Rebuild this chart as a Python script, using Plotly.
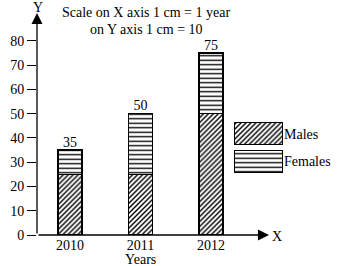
import plotly.graph_objects as go

years = [2010, 2011, 2012]
males = [25, 25, 50]
females = [10, 25, 25]
totals = [m + f for m, f in zip(males, females)]
y_ticks = [0, 10, 20, 30, 40, 50, 60, 70, 80]
legend_names = ["Females", "Males"]

FONT = "Liberation Serif"
male_pat = dict(shape="/", fgcolor="black", bgcolor="white", size=3.5, solidity=0.4, fgopacity=1)
fem_pat = dict(shape="-", fgcolor="black", bgcolor="white", size=4.5, solidity=0.3, fgopacity=1)

fig = go.Figure()
fig.add_trace(go.Bar(x=years, y=males, width=0.34, name="Males",
                     marker=dict(color="white", line=dict(color="black", width=1.2), pattern=male_pat),
                     xaxis="x", yaxis="y", showlegend=False))
fig.add_trace(go.Bar(x=years, y=females, width=0.34, name="Females",
                     marker=dict(color="white", line=dict(color="black", width=1.2), pattern=fem_pat),
                     xaxis="x", yaxis="y", showlegend=False))
fig.add_trace(go.Scatter(x=years, y=totals, text=[str(t) for t in totals], mode="text",
                         textposition="top center", textfont=dict(family=FONT, size=14, color="black"),
                         xaxis="x", yaxis="y", showlegend=False, cliponaxis=False))

# legend boxes
fig.add_trace(go.Bar(y=["Males"], x=[1], orientation="h", width=0.8,
                     marker=dict(color="white", line=dict(color="black", width=1.2), pattern=male_pat),
                     xaxis="x2", yaxis="y2", showlegend=False))
fig.add_trace(go.Bar(y=["Females"], x=[1], orientation="h", width=0.8,
                     marker=dict(color="white", line=dict(color="black", width=1.2), pattern=fem_pat),
                     xaxis="x2", yaxis="y2", showlegend=False))

W_PLOT = 295.0
H_PLOT = 222.0


def px(x):
    return (x - 37) / W_PLOT


def py(y):
    return (235 - y) / H_PLOT


def label(x, y, text, xref="paper"):
    return dict(xref=xref, yref="paper", x=x, y=py(y), text=text, showarrow=False,
                xanchor="center", yanchor="middle", font=dict(family=FONT, size=14, color="black"))


fig.update_layout(
    width=337, height=266,
    margin=dict(l=37, r=5, t=13, b=31),
    paper_bgcolor="white", plot_bgcolor="white",
    barmode="stack",
    font=dict(family=FONT, size=14, color="black"),
    xaxis=dict(domain=[0, 225 / W_PLOT], range=[2009.532, 2012.723], tickvals=years,
               ticktext=[str(y) for y in years], showgrid=False, zeroline=False, showline=False,
               ticks="", tickfont=dict(family=FONT, size=14)),
    yaxis=dict(range=[0, 91.5], tickvals=y_ticks, showgrid=False, zeroline=False, showline=False,
               ticks="outside", ticklen=9, tickwidth=1, tickcolor="black",
               tickfont=dict(family=FONT, size=14)),
    xaxis2=dict(domain=[px(234), px(283)], range=[0, 1], anchor="y2", visible=False),
    yaxis2=dict(domain=[py(175), py(120)], anchor="x2", side="right", categoryorder="array",
                categoryarray=legend_names, range=[-0.5, 1.5], showgrid=False, zeroline=False,
                showline=False, ticks="", tickfont=dict(family=FONT, size=14)),
    annotations=[
        dict(xref="paper", yref="paper", x=0, y=py(13), ax=0, ay=222,
             text="", showarrow=True, arrowhead=2, arrowsize=1.7, arrowwidth=1.3, arrowcolor="black",
             standoff=0),
        dict(xref="paper", yref="paper", x=px(269), y=0, ax=-(269 - 37), ay=0,
             text="", showarrow=True, arrowhead=2, arrowsize=1.7, arrowwidth=1.3, arrowcolor="black",
             standoff=0),
        label(px(38), 7, "Y"),
        label(px(277), 236, "X"),
        label(px(146), 12, "Scale on X axis 1 cm = 1 year"),
        label(px(146), 29, "on Y axis 1 cm = 10"),
        label(2011, 259.5, "Years", xref="x"),
    ],
)

fig.write_html("out.html")
